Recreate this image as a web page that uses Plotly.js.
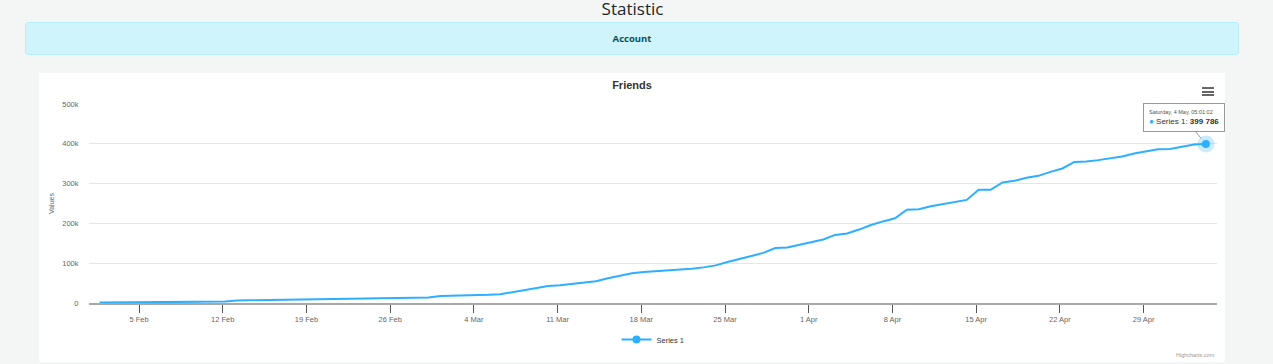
<!DOCTYPE html>
<html>
<head>
<meta charset="utf-8">
<script src="https://cdn.plot.ly/plotly-3.0.1.min.js"></script>
<style>
html,body{margin:0;padding:0;background:#f4f5f5;width:1273px;height:364px;overflow:hidden;font-family:"Open Sans","Noto Sans",sans-serif;}
#heading{position:absolute;left:0;top:0px;width:1265px;text-align:center;font-size:17px;line-height:17px;color:#212529;font-weight:500;}
#alert{position:absolute;left:25px;top:22px;width:1212px;height:31px;background:#cff4fc;border:1px solid #b6effb;border-radius:3px;text-align:center;line-height:31px;font-size:9.5px;font-weight:700;color:#055160;}
#panel{position:absolute;left:39px;top:73px;width:1186px;height:289px;background:#fff;}
#chart{position:absolute;left:0;top:0;width:1186px;height:289px;}
#menu{position:absolute;left:1163px;top:14px;width:12px;}
#menu div{height:2px;background:#666;margin-bottom:1.5px;}
</style>
</head>
<body>
<div id="heading">Statistic</div>
<div id="alert">Account</div>
<div id="panel">
  <div id="chart"></div>
  <div id="menu"><div></div><div></div><div></div></div>
</div>
<script>
// ---- data ----
const chartTitle = "Friends";
const seriesName = "Series 1";
const yTitle = "Values";
const yTickVals = [0, 100000, 200000, 300000, 400000, 500000];
const yTickText = ["0", "100k", "200k", "300k", "400k", "500k"];
const tooltipDate = "Saturday, 4 May, 05:01:02";

const dates = [
 "2024-02-01 17:00:00","2024-02-02 05:01:02","2024-02-03 05:01:02","2024-02-04 05:01:02","2024-02-05 05:01:02",
 "2024-02-06 05:01:02","2024-02-07 05:01:02","2024-02-08 05:01:02","2024-02-09 05:01:02","2024-02-10 05:01:02",
 "2024-02-11 05:01:02","2024-02-12 05:01:02","2024-02-13 05:01:02","2024-02-14 05:01:02","2024-02-15 05:01:02",
 "2024-02-16 05:01:02","2024-02-17 05:01:02","2024-02-18 05:01:02","2024-02-19 05:01:02","2024-02-20 05:01:02",
 "2024-02-21 05:01:02","2024-02-22 05:01:02","2024-02-23 05:01:02","2024-02-24 05:01:02","2024-02-25 05:01:02",
 "2024-02-26 05:01:02","2024-02-27 05:01:02","2024-02-28 05:01:02","2024-02-29 05:01:02","2024-03-01 05:01:02",
 "2024-03-02 05:01:02","2024-03-03 05:01:02","2024-03-04 05:01:02","2024-03-05 05:01:02","2024-03-06 05:01:02",
 "2024-03-07 05:01:02","2024-03-08 05:01:02","2024-03-09 05:01:02","2024-03-10 05:01:02","2024-03-11 05:01:02",
 "2024-03-12 05:01:02","2024-03-13 05:01:02","2024-03-14 05:01:02","2024-03-15 05:01:02","2024-03-16 05:01:02",
 "2024-03-17 05:01:02","2024-03-18 05:01:02","2024-03-19 05:01:02","2024-03-20 05:01:02","2024-03-21 05:01:02",
 "2024-03-22 05:01:02","2024-03-23 05:01:02","2024-03-24 05:01:02","2024-03-25 05:01:02","2024-03-26 05:01:02",
 "2024-03-27 05:01:02","2024-03-28 05:01:02","2024-03-29 05:01:02","2024-03-30 05:01:02","2024-03-31 05:01:02",
 "2024-04-01 05:01:02","2024-04-02 05:01:02","2024-04-03 05:01:02","2024-04-04 05:01:02","2024-04-05 05:01:02",
 "2024-04-06 05:01:02","2024-04-07 05:01:02","2024-04-08 05:01:02","2024-04-09 05:01:02","2024-04-10 05:01:02",
 "2024-04-11 05:01:02","2024-04-12 05:01:02","2024-04-13 05:01:02","2024-04-14 05:01:02","2024-04-15 05:01:02",
 "2024-04-16 05:01:02","2024-04-17 05:01:02","2024-04-18 05:01:02","2024-04-19 05:01:02","2024-04-20 05:01:02",
 "2024-04-21 05:01:02","2024-04-22 05:01:02","2024-04-23 05:01:02","2024-04-24 05:01:02","2024-04-25 05:01:02",
 "2024-04-26 05:01:02","2024-04-27 05:01:02","2024-04-28 05:01:02","2024-04-29 05:01:02","2024-04-30 05:01:02",
 "2024-05-01 05:01:02","2024-05-02 05:01:02","2024-05-03 05:01:02","2024-05-04 05:01:02"
];

const friends = [
 1000, 1200, 1400, 1600, 1800,
 2000, 2200, 2400, 2600, 2800,
 3000, 3500, 6500, 7000, 7300,
 7600, 8000, 8300, 8600, 9000,
 9300, 9700, 10200, 10700, 11200,
 11800, 12400, 13000, 14000, 17500,
 18000, 19000, 19500, 20500, 22000,
 27000, 32000, 37500, 43000, 44500,
 47500, 50000, 54500, 62000, 68000,
 74500, 78000, 80000, 81000, 83500,
 86000, 89500, 94500, 103000, 110000,
 118000, 126000, 138000, 139500, 146000,
 153000, 159500, 171000, 174500, 184500,
 196000, 205000, 213000, 234500, 235500,
 243000, 248000, 254000, 259000, 284500,
 284500, 303000, 307000, 314500, 319500,
 329500, 338000, 354500, 355500, 359000,
 364000, 368000, 375500, 380500, 386000,
 387000, 393000, 398000, 399786
];

// ---- chart ----
const color = "#2caffe";
const last = dates.length - 1;
const fmt = v => String(v).replace(/\B(?=(\d{3})+(?!\d))/g, " ");
const font = "Liberation Sans, Arial, sans-serif";

const traces = [
  {x: dates, y: friends, type: "scatter", mode: "lines", name: seriesName,
   line: {color: color, width: 2}, showlegend: false, legendgroup: "s1", hoverinfo: "skip"},
  {x: [dates[last]], y: [friends[last]], type: "scatter", mode: "markers",
   marker: {color: "rgba(44,175,254,0.25)", size: 17}, showlegend: false, legendgroup: "s1", hoverinfo: "skip"},
  {x: [dates[last]], y: [friends[last]], type: "scatter", mode: "lines+markers", name: seriesName,
   line: {color: color, width: 2}, marker: {color: color, size: 8}, legendgroup: "s1", hoverinfo: "skip"}
];

const layout = {
  width: 1186, height: 289,
  margin: {l: 50, r: 8, t: 31, b: 57},
  paper_bgcolor: "#ffffff", plot_bgcolor: "#ffffff",
  font: {family: font, color: "#666666", size: 7.5},
  title: {text: chartTitle, x: 0.5, xanchor: "center", xref: "container",
          y: 1 - 12/289, yanchor: "middle", yref: "container",
          font: {family: font, size: 11, color: "#333333", weight: 700}},
  hovermode: false,
  showlegend: true,
  legend: {orientation: "h", x: 0.5, xanchor: "center", y: -0.184, yanchor: "middle",
           font: {family: font, size: 7.5, color: "#333333"}, itemwidth: 30},
  xaxis: {type: "date", range: ["2024-01-31 19:40", "2024-05-05 03:20"],
          tick0: "2024-02-05", dtick: 7*86400000, tickformat: "%-d %b",
          ticks: "outside", ticklen: 8, tickwidth: 1, tickcolor: "#555555",
          showline: true, linecolor: "#a8a8a8", linewidth: 2,
          showgrid: false, zeroline: false,
          tickfont: {family: font, size: 7.5, color: "#666666"}, fixedrange: true},
  yaxis: {range: [0, 500000], tickvals: yTickVals, ticktext: yTickText,
          ticks: "outside", ticklen: 8, tickcolor: "rgba(0,0,0,0)",
          showgrid: true, gridcolor: "#e6e6e6", gridwidth: 1, zeroline: false, showline: false,
          tickfont: {family: font, size: 7.5, color: "#666666"},
          title: {text: yTitle, standoff: 6, font: {family: font, size: 7, color: "#666666"}},
          fixedrange: true},
  annotations: [
    {x: dates[last], y: friends[last], xref: "x", yref: "y",
     showarrow: true, arrowhead: 0, arrowwidth: 1, arrowcolor: "#999999", standoff: 7,
     ax: -22, ay: -26, align: "left",
     bgcolor: "rgba(255,255,255,0.97)", bordercolor: "#999999", borderwidth: 1, borderpad: 5,
     font: {family: font, size: 8, color: "#333333"},
     text: "<span style='font-size:5.5px;color:#555'>" + tooltipDate + "</span><br>" +
           "<span style='color:" + color + "'>●</span> " + seriesName + ": <b>" + fmt(friends[last]) + "</b>"},
    {x: 1, xref: "paper", xanchor: "right", y: -0.259, yref: "paper", yanchor: "middle",
     showarrow: false, text: "Highcharts.com", font: {family: font, size: 5.5, color: "#999999"}}
  ]
};

Plotly.newPlot("chart", traces, layout, {displayModeBar: false, staticPlot: true});
</script>
</body>
</html>
